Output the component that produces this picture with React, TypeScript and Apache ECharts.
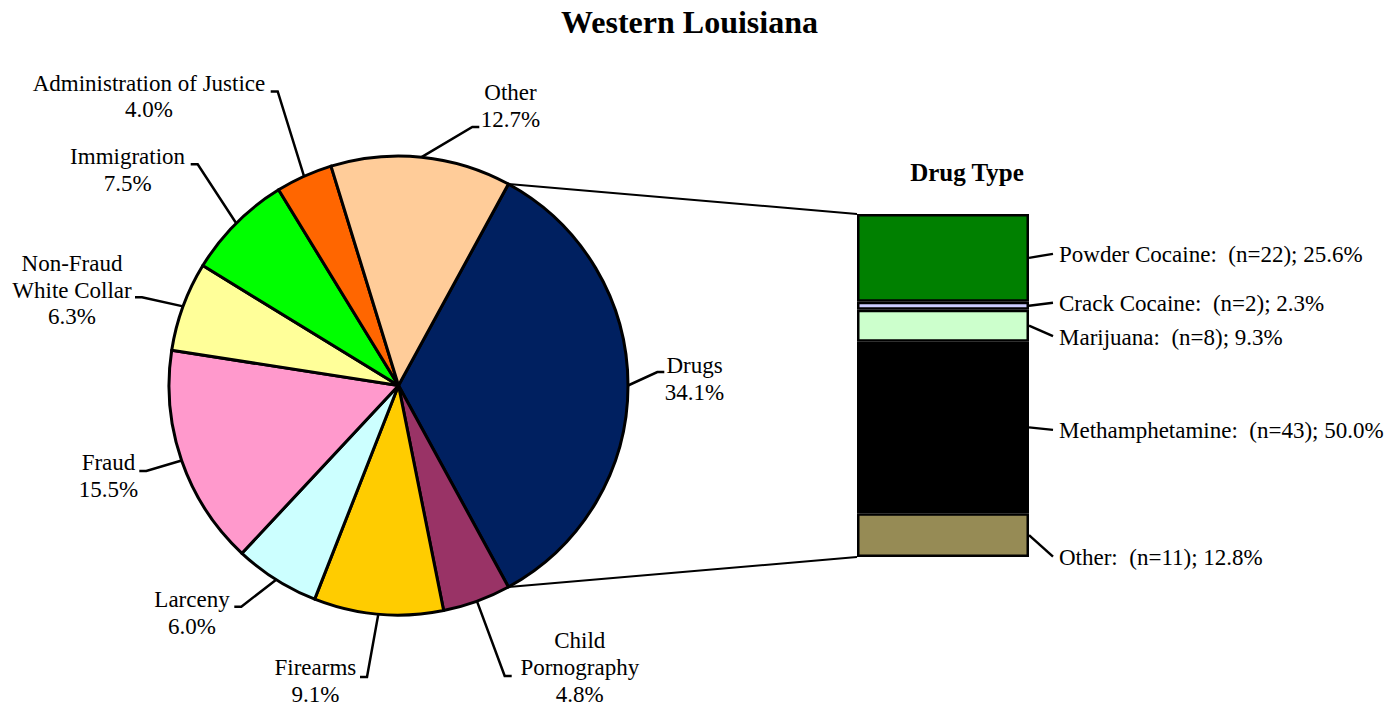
import React, { useEffect, useRef } from 'react';
import * as echarts from 'echarts';

// ---------- data ----------
const chartTitle = 'Western Louisiana';
const offenseCategories = [
  'Drugs',
  'Child Pornography',
  'Firearms',
  'Larceny',
  'Fraud',
  'Non-Fraud White Collar',
  'Immigration',
  'Administration of Justice',
  'Other',
];
const offensePercents = [34.1, 4.8, 9.1, 6.0, 15.5, 6.3, 7.5, 4.0, 12.7];
const offenseColors = ['#002060', '#993366', '#FFCC00', '#CCFFFF', '#FF99CC', '#FFFF99', '#00FF00', '#FF6600', '#FFCC99'];

const drugTitle = 'Drug Type';
// listed top to bottom, as in the stacked bar
const drugTypes = ['Powder Cocaine', 'Crack Cocaine', 'Marijuana', 'Methamphetamine', 'Other'];
const drugCounts = [22, 2, 8, 43, 11];
const drugPercents = [25.6, 2.3, 9.3, 50.0, 12.8];
const drugColors = ['#008000', '#CCCCFF', '#CCFFCC', '#000000', '#968B55'];

// ---------- layout / style ----------
const FONT = "'Liberation Serif', 'Times New Roman', serif";
const PIE_CX = 398.5;
const PIE_CY = 385.5;
const PIE_R = 229.5;
const BAR_GRID = { left: 857, top: 214, width: 172, height: 343 };
const LABEL_FONT_SIZE = 23;
const LABEL_LINE_HEIGHT = 26.7;
const LEADER_WIDTH = 2.5;

// label block centre (dx, dy) and leader end (ex, ey), relative to the pie centre
const pieLabelPlacement = [
  [296, -6.5, 265.8, -13.5],
  [181.3, 281.9, 113.2, 290.5],
  [-83.1, 295.5, -38.5, 291.5],
  [-206.5, 227.7, -164.2, 221.2],
  [-290, 90.6, -259.2, 85.5],
  [-326.5, -95.3, -263.5, -88.2],
  [-270.9, -215.2, -207.8, -221.2],
  [-249.5, -289.1, -127.8, -294],
  [112, -279.8, 80.8, -258.5],
];
// vertical shift of each drug label from its segment middle (top to bottom)
const drugLabelShift = [-3, -2, 11.5, 3.5, 22.5];
const DRUG_LABEL_DISTANCE = 30;

const lineBreakNames: Record<string, string> = {
  'Non-Fraud White Collar': 'Non-Fraud\nWhite Collar',
  'Child Pornography': 'Child\nPornography',
};

export default function App() {
  const ref = useRef<HTMLDivElement>(null);

  useEffect(() => {
    if (!ref.current) return;
    const chart = echarts.init(ref.current, undefined, { renderer: 'svg' });

    const pieTotal = offensePercents.reduce((a, b) => a + b, 0);
    const startAngle = (offensePercents[0] / pieTotal) * 180;
    const midAngles: number[] = [];
    let cum = 0;
    offensePercents.forEach((v) => {
      const mid = startAngle - ((cum + v / 2) / pieTotal) * 360;
      midAngles.push((mid * Math.PI) / 180);
      cum += v;
    });

    const drugTotal = drugCounts.reduce((a, b) => a + b, 0);

    // bar series, bottom to top for stacking
    const barSeries: any[] = [];
    for (let k = drugTypes.length - 1; k >= 0; k--) {
      const idx = k;
      barSeries.push({
        type: 'bar',
        name: drugTypes[idx],
        stack: 'drug',
        barWidth: '100%',
        data: [drugCounts[idx]],
        itemStyle: { color: drugColors[idx], borderColor: '#000', borderWidth: 2.5 },
        label: {
          show: true,
          position: 'right',
          distance: DRUG_LABEL_DISTANCE,
          formatter: () => `${drugTypes[idx]}:  (n=${drugCounts[idx]}); ${drugPercents[idx].toFixed(1)}%`,
          fontFamily: FONT,
          fontSize: LABEL_FONT_SIZE,
          color: '#000',
        },
        labelLayout: { dy: drugLabelShift[idx] },
        emphasis: { disabled: true },
        silent: true,
      });
    }

    const option: any = {
      animation: false,
      backgroundColor: '#ffffff',
      title: [
        {
          text: chartTitle,
          left: 689.5,
          top: 22,
          padding: 0,
          textAlign: 'center',
          textVerticalAlign: 'middle',
          textStyle: { fontFamily: FONT, fontSize: 32, fontWeight: 'bold', color: '#000' },
        },
        {
          text: drugTitle,
          left: 967,
          top: 172.5,
          padding: 0,
          textAlign: 'center',
          textVerticalAlign: 'middle',
          textStyle: { fontFamily: FONT, fontSize: 25, fontWeight: 'bold', color: '#000' },
        },
      ],
      grid: { ...BAR_GRID, containLabel: false },
      xAxis: { type: 'category', data: ['Drugs'], show: false },
      yAxis: { type: 'value', min: 0, max: drugTotal, show: false },
      series: [
        {
          type: 'pie',
          center: [PIE_CX, PIE_CY],
          radius: PIE_R,
          startAngle,
          clockwise: true,
          avoidLabelOverlap: false,
          silent: true,
          emphasis: { disabled: true },
          data: offenseCategories.map((name, i) => ({
            name,
            value: offensePercents[i],
            itemStyle: { color: offenseColors[i] },
          })),
          itemStyle: { borderColor: '#000', borderWidth: 3 },
          label: {
            show: true,
            position: 'outside',
            formatter: (p: any) => `${lineBreakNames[p.name] || p.name}\n${Number(p.value).toFixed(1)}%`,
            fontFamily: FONT,
            fontSize: LABEL_FONT_SIZE,
            lineHeight: LABEL_LINE_HEIGHT,
            color: '#000',
          },
          labelLine: { show: true, length: 10, length2: 10, lineStyle: { color: '#000', width: LEADER_WIDTH } },
          labelLayout: (params: any) => {
            const i = params.dataIndex;
            const [tx, ty, ex, ey] = pieLabelPlacement[i];
            const a = midAngles[i];
            const p0 = [PIE_CX + PIE_R * Math.cos(a), PIE_CY - PIE_R * Math.sin(a)];
            const sign = tx > ex ? -1 : 1;
            return {
              x: PIE_CX + tx,
              y: PIE_CY + ty,
              align: 'center',
              verticalAlign: 'middle',
              labelLinePoints: [p0, [PIE_CX + ex + sign * 7, PIE_CY + ey], [PIE_CX + ex, PIE_CY + ey]],
            };
          },
        },
        ...barSeries,
      ],
    };

    chart.setOption(option);

    // connector lines and drug leader lines
    const topPix = chart.convertToPixel({ gridIndex: 0 }, [0, drugTotal]) as number[];
    const botPix = chart.convertToPixel({ gridIndex: 0 }, [0, 0]) as number[];
    const barLeft = topPix[0] - BAR_GRID.width / 2;
    const barRight = topPix[0] + BAR_GRID.width / 2;
    const h = (startAngle * Math.PI) / 180;
    const pTop = [PIE_CX + PIE_R * Math.cos(h), PIE_CY - PIE_R * Math.sin(h)];
    const pBot = [PIE_CX + PIE_R * Math.cos(h), PIE_CY + PIE_R * Math.sin(h)];

    const graphics: any[] = [
      { type: 'line', shape: { x1: pTop[0], y1: pTop[1], x2: barLeft, y2: topPix[1] }, style: { stroke: '#000', lineWidth: 2 }, z: 10 },
      { type: 'line', shape: { x1: pBot[0], y1: pBot[1], x2: barLeft, y2: botPix[1] }, style: { stroke: '#000', lineWidth: 2 }, z: 10 },
    ];
    let above = 0;
    drugCounts.forEach((c, i) => {
      const midVal = drugTotal - (above + c / 2);
      above += c;
      const y = (chart.convertToPixel({ gridIndex: 0 }, [0, midVal]) as number[])[1];
      const ly = y + drugLabelShift[i] - 1;
      graphics.push({
        type: 'polyline',
        shape: { points: [[barRight, y], [barRight + DRUG_LABEL_DISTANCE - 6, ly]] },
        style: { stroke: '#000', lineWidth: LEADER_WIDTH, fill: 'none' },
        z: 10,
      });
    });
    chart.setOption({ graphic: graphics });

    return () => chart.dispose();
  }, []);

  return (
    <div
      ref={ref}
      style={{ position: 'fixed', left: 0, top: 0, width: 1390, height: 706, background: '#fff' }}
    />
  );
}
